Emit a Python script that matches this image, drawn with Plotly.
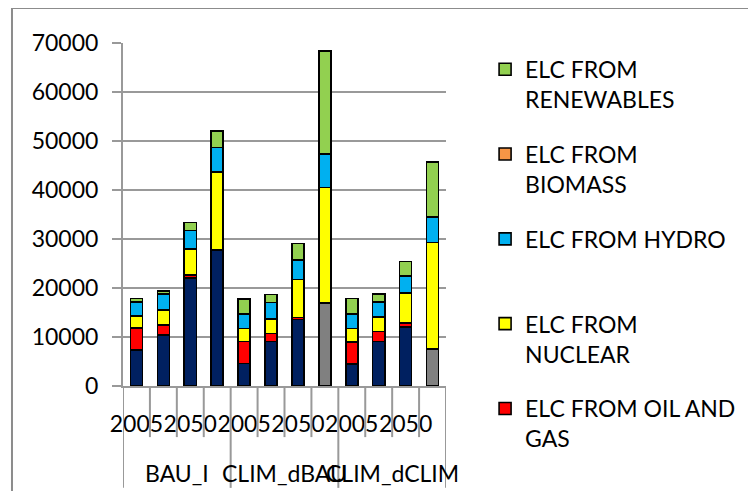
import plotly.graph_objects as go

# ---- data ----
scenarios = ["BAU_I", "CLIM_dBAU", "CLIM_dCLIM"]
periods_per_scenario = 4
period_tick_labels = ["2005", "", "2050", ""]   # labels visible under bars (others hidden by overlap)

coal      = [7400, 10400, 22000, 27750, 4600, 9050, 13600, 0, 4550, 9050, 12100, 0]
coal_ccs  = [0, 0, 0, 0, 0, 0, 0, 17000, 0, 0, 0, 7600]
oil_gas   = [4400, 2050, 700, 0, 4450, 1700, 400, 0, 4400, 2050, 700, 0]
nuclear   = [2500, 3050, 5200, 15900, 2700, 2900, 7700, 23550, 2800, 3000, 6200, 21700]
hydro     = [2800, 3250, 3800, 5000, 2900, 3400, 4000, 6750, 2900, 3000, 3500, 5250]
biomass   = [0, 0, 0, 0, 0, 0, 0, 0, 0, 0, 0, 0]
renewable = [750, 700, 1650, 3450, 3150, 1650, 3400, 21100, 3200, 1700, 2900, 11150]

series = [
    ("ELC FROM COAL", coal, "#002060", False),
    ("ELC FROM COAL CCS", coal_ccs, "#808080", False),
    ("ELC FROM OIL AND<br>GAS", oil_gas, "#FF0000", True),
    ("ELC FROM<br>NUCLEAR", nuclear, "#FFFF00", True),
    ("ELC FROM HYDRO<br>&nbsp;", hydro, "#00B0F0", True),
    ("ELC FROM<br>BIOMASS", biomass, "#F79646", True),
    ("ELC FROM<br>RENEWABLES", renewable, "#92D050", True),
]

n_bars = len(scenarios) * periods_per_scenario
xpos = list(range(n_bars))

FONT = "Lato"
GRID = "#999999"
W, H = 740, 483

fig = go.Figure()
for i, (name, vals, color, show) in enumerate(series):
    fig.add_trace(go.Bar(
        x=xpos, y=vals, name=name, showlegend=show, legendgroup=f"g{i}",
        legendrank=1000 - i,
        marker=dict(color=color, line=dict(color="#000000", width=1.6)),
    ))

tickvals, ticktext = [], []
for s in range(len(scenarios)):
    for p, lab in enumerate(period_tick_labels):
        if lab:
            tickvals.append(s * periods_per_scenario + p)
            ticktext.append(lab)

shapes = []
for b in range(n_bars + 1):
    long = (b % periods_per_scenario == 0)
    shapes.append(dict(type="line", xref="x", yref="paper",
                       x0=b - 0.5, x1=b - 0.5, y0=0, y1=-0.297 if long else -0.149,
                       line=dict(color=GRID, width=2)))
# chart-area border
shapes.append(dict(type="rect", xref="paper", yref="paper",
                   x0=-0.3437, x1=2.0, y0=-1.0, y1=1.102,
                   line=dict(color="#8c8c8c", width=2), fillcolor="rgba(0,0,0,0)", layer="below"))

annotations = []
for s, name in enumerate(scenarios):
    annotations.append(dict(x=s * periods_per_scenario + (periods_per_scenario - 1) / 2,
                            y=-0.254, xref="x", yref="paper", text=name, showarrow=False,
                            yanchor="middle", font=dict(family=FONT, size=23, color="#000")))

fig.update_layout(
    width=W, height=H,
    margin=dict(l=115, r=W - 438, t=35, b=H - 378, autoexpand=False),
    paper_bgcolor="white", plot_bgcolor="white",
    barmode="stack", bargap=0.55,
    font=dict(family=FONT, size=23, color="#000"),
    xaxis=dict(range=[-0.5, n_bars - 0.5], tickvals=tickvals, ticktext=ticktext, tickangle=0,
               showgrid=False, zeroline=False, showline=True, linecolor=GRID, linewidth=2,
               ticks="", ticklabelstandoff=16, tickfont=dict(family=FONT, size=23, color="#000")),
    yaxis=dict(range=[0, 70000], tickvals=list(range(0, 70001, 10000)), tickformat="d",
               showgrid=True, gridcolor=GRID, gridwidth=2, zeroline=False,
               showline=True, linecolor=GRID, linewidth=2,
               ticks="outside", ticklen=9, tickcolor=GRID, tickwidth=2,
               ticklabelstandoff=9, tickfont=dict(family=FONT, size=23, color="#000")),
    legend=dict(x=1.121, xanchor="left", yref="container", y=1 - 39.8 / H, yanchor="top",
                maxheight=1, traceorder="grouped", tracegroupgap=22, valign="top",
                font=dict(family=FONT, size=23, color="#000"), bgcolor="rgba(0,0,0,0)"),
    shapes=shapes, annotations=annotations,
)

fig.write_html("out.html")
